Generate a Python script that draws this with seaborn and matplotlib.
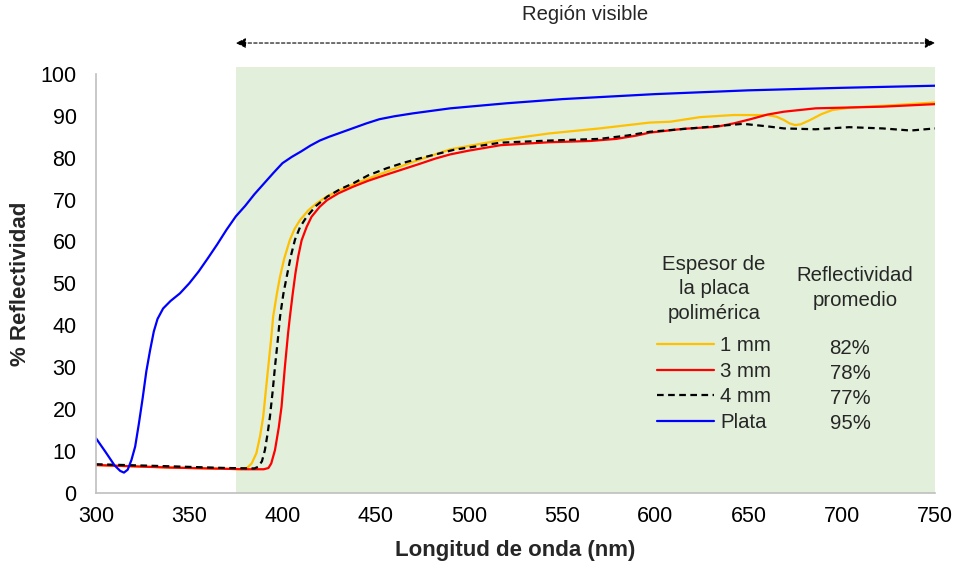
import numpy as np
import pandas as pd
import matplotlib
matplotlib.use("Agg")
import matplotlib.pyplot as plt
import seaborn as sns

# Plata (silver reference)
plata_nm = [300, 305, 310, 313, 315, 317, 319, 321, 323, 325, 327, 329, 331, 333, 336,
            340, 345, 350, 355, 360, 365, 370, 375, 380, 385, 390, 395, 400, 405, 410, 415,
            420, 425, 430, 435, 440, 445, 452, 460, 470, 480, 490, 520, 550, 600, 650, 700, 750]
plata_r = [13.0, 9.8, 6.5, 5.2, 4.8, 5.5, 7.8, 11.0, 16.5, 22.5, 29.0, 34.0, 38.5, 41.5, 44.0,
           45.8, 47.6, 50.0, 52.8, 56.0, 59.3, 62.8, 66.0, 68.5, 71.3, 73.8, 76.3, 78.7, 80.2, 81.5, 82.9,
           84.1, 85.0, 85.8, 86.6, 87.4, 88.2, 89.2, 89.9, 90.6, 91.2, 91.8, 93.0, 94.0, 95.2, 96.1, 96.7, 97.2]

# 1 mm plate
mm1_nm = [300, 340, 370, 378, 381, 383.5, 386, 388, 389.7, 391, 392.4, 394, 395, 397, 398.7,
          401, 404, 406.5, 409.4, 414, 418.3, 424, 431, 440, 456, 470, 490, 517, 543, 570,
          597, 608, 624, 642, 660, 665, 669, 672, 675, 678, 683, 689, 695, 705, 722, 750]
mm1_r = [6.6, 6.0, 5.7, 5.6, 5.9, 7.0, 9.4, 13.5, 18.2, 24.0, 30.1, 37.0, 42.0, 47.5, 51.6,
         56.0, 60.4, 63.0, 65.1, 67.5, 69.1, 70.8, 72.3, 74.0, 76.7, 79.0, 82.0, 84.2, 85.8, 87.0,
         88.4, 88.6, 89.7, 90.2, 90.2, 89.8, 89.0, 88.2, 87.8, 88.0, 89.0, 90.4, 91.4, 92.0, 92.4, 93.2]

# 3 mm plate
mm3_nm = [300, 320, 340, 360, 380, 390, 392.5, 394, 396, 398, 399.5, 401.3, 403, 404, 405.5,
          407, 408.5, 410.3, 413, 415.6, 420, 424, 430, 438, 446, 456, 465, 474, 482, 490, 500,
          517, 543, 565, 579, 590, 597, 615, 633, 642, 651, 660, 669, 686, 704, 722, 750]
mm3_r = [6.6, 6.3, 6.0, 5.8, 5.6, 5.6, 5.9, 7.0, 10.2, 15.5, 20.5, 30.0, 38.0, 42.0, 47.5,
         52.5, 56.5, 60.3, 63.5, 65.9, 68.3, 69.9, 71.5, 73.1, 74.5, 76.0, 77.3, 78.6, 79.8, 80.8, 81.7,
         83.0, 83.7, 84.0, 84.5, 85.3, 86.0, 86.9, 87.4, 88.2, 89.2, 90.3, 91.0, 91.8, 92.0, 92.2, 92.8]

# 4 mm plate
mm4_nm = [300, 340, 370, 385, 387, 389, 390.6, 392, 393.3, 394.7, 396, 397.4, 398.7, 400.5,
          402.3, 404.5, 406.7, 409.5, 413, 418, 424, 431, 438, 446, 456, 465, 474, 492, 517,
          543, 570, 585, 597, 624, 647, 660, 669, 686, 704, 722, 737, 750]
mm4_r = [6.8, 6.3, 5.9, 5.8, 6.2, 7.5, 10.2, 14.0, 18.2, 24.0, 30.1, 36.0, 42.0, 47.5,
         51.6, 56.5, 60.4, 63.5, 65.9, 68.5, 70.7, 72.5, 73.9, 75.8, 77.5, 78.8, 79.9, 81.9, 83.6,
         84.1, 84.5, 85.3, 86.2, 87.2, 88.1, 87.5, 87.0, 86.8, 87.3, 87.0, 86.5, 87.0]

labels = ["1 mm", "3 mm", "4 mm", "Plata"]
promedio = ["82%", "78%", "77%", "95%"]

sns.set_style("white")
plt.rcParams["font.family"] = ["Liberation Sans", "DejaVu Sans"]

fig = plt.figure(figsize=(9.56, 5.68), dpi=100)
ax = fig.add_axes([96 / 956, 1 - 492.7 / 568, 839 / 956, 418.7 / 568])

# visible region shading
ax.axvspan(375, 750, ymin=0, ymax=1.017, color="#e2efda", lw=0, clip_on=False, zorder=0)

lw = 1.6
sns.lineplot(x=mm1_nm, y=mm1_r, ax=ax, color="#ffc000", lw=lw, estimator=None, sort=False)
sns.lineplot(x=mm3_nm, y=mm3_r, ax=ax, color="#ff0000", lw=lw, estimator=None, sort=False)
sns.lineplot(x=mm4_nm, y=mm4_r, ax=ax, color="black", lw=lw, estimator=None, sort=False)
sns.lineplot(x=plata_nm, y=plata_r, ax=ax, color="#0000ff", lw=lw, estimator=None, sort=False)
lines = ax.get_lines()
lines[2].set_dashes((3, 2))

ax.set_xlim(300, 750)
ax.set_ylim(0, 100)
ax.set_xticks(np.arange(300, 751, 50))
ax.set_yticks(np.arange(0, 101, 10))
ax.tick_params(axis="both", direction="out", length=5, width=1, color="#bfbfbf",
               labelsize=15.5, labelcolor="black")
ax.tick_params(axis="y", pad=9)
ax.tick_params(axis="x", pad=4.5)
for s in ["top", "right"]:
    ax.spines[s].set_visible(False)
for s in ["left", "bottom"]:
    ax.spines[s].set_color("#bfbfbf")
    ax.spines[s].set_linewidth(1.2)
ax.patch.set_alpha(0)

ax.set_xlabel("Longitud de onda (nm)", fontsize=16, fontweight="bold")
ax.set_ylabel("% Reflectividad", fontsize=16, fontweight="bold")
ax.xaxis.set_label_coords(0.5, (492.7 - 540) / 418.7)
ax.yaxis.set_label_coords((31 - 96) / 839, 0.5)

# visible region arrow and label
ax.annotate("", xy=(750, 107.4), xytext=(375, 107.4), xycoords="data",
            arrowprops=dict(arrowstyle="<|-|>", color="black", lw=0.8, ls=(0, (3, 2)),
                            mutation_scale=15, shrinkA=0, shrinkB=0),
            annotation_clip=False)
ax.text(562.5, 114.3, "Región visible", ha="center", va="center", fontsize=14.6)

# legend as a small table
fs = 14.7
leg = ax.legend(handles=lines, labels=labels, loc="upper left", frameon=False,
                bbox_to_anchor=(657 / 956, 1 - 336 / 568), bbox_transform=fig.transFigure,
                fontsize=fs, handlelength=2.8, handletextpad=0.3, labelspacing=0.33,
                borderpad=0, borderaxespad=0)
fig.text(714 / 956, 1 - 289 / 568, "Espesor de\nla placa\npolimérica", ha="center", va="center",
         fontsize=fs, linespacing=1.37)
fig.text(855 / 956, 1 - 288 / 568, "Reflectividad\npromedio", ha="center", va="center",
         fontsize=fs, linespacing=1.37)
for i, p in enumerate(promedio):
    fig.text(850 / 956, 1 - (348 + i * 25.2) / 568, p, ha="center", va="center", fontsize=fs)

fig.savefig("out.png", dpi=100)
